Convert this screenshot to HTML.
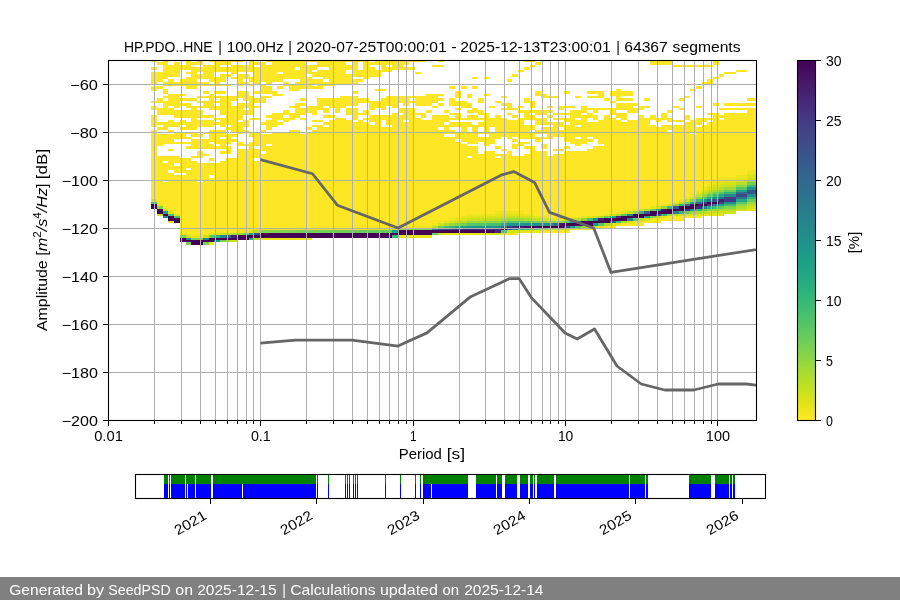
<!DOCTYPE html>
<html><head><meta charset="utf-8"><title>PPSD HP.PDO..HNE</title>
<style>html,body{margin:0;padding:0;background:#fff}body{width:900px;height:600px;overflow:hidden;font-family:"Liberation Sans",sans-serif}svg{display:block;will-change:transform}</style></head>
<body>
<svg width="900" height="600" viewBox="0 0 900 600" font-family="'Liberation Sans', sans-serif" font-size="14.1px" fill="#000">
<rect width="900" height="600" fill="#fff"/>
<defs><clipPath id="axclip"><rect x="108" y="60" width="648" height="360"/></clipPath>
<linearGradient id="vir" x1="0" y1="0" x2="0" y2="1"><stop offset="0" stop-color="#440154"/><stop offset="0.05" stop-color="#471365"/><stop offset="0.1" stop-color="#482475"/><stop offset="0.15" stop-color="#463480"/><stop offset="0.2" stop-color="#414487"/><stop offset="0.25" stop-color="#3b518b"/><stop offset="0.3" stop-color="#355f8d"/><stop offset="0.35" stop-color="#2f6c8e"/><stop offset="0.4" stop-color="#2a788e"/><stop offset="0.45" stop-color="#25848e"/><stop offset="0.5" stop-color="#21908d"/><stop offset="0.55" stop-color="#1e9c89"/><stop offset="0.6" stop-color="#22a884"/><stop offset="0.65" stop-color="#2fb47c"/><stop offset="0.7" stop-color="#44bf70"/><stop offset="0.75" stop-color="#5cc863"/><stop offset="0.8" stop-color="#7ad151"/><stop offset="0.85" stop-color="#9bd93c"/><stop offset="0.9" stop-color="#bddf26"/><stop offset="0.95" stop-color="#dfe318"/><stop offset="1" stop-color="#fde725"/></linearGradient></defs>
<g clip-path="url(#axclip)" shape-rendering="crispEdges">
<path fill="#fde725" d="M151 60H157V62.4H151ZM163 60H168V62.4H163ZM186 60H191V62.4H186ZM197 60H203V62.4H197ZM209 60H243V62.4H209ZM249 60H254V62.4H249ZM266 60H369V62.4H266ZM375 60H426V62.4H375ZM438 60H444V62.4H438ZM524 60H535V62.4H524ZM650 60H673V62.4H650ZM713 60H719V62.4H713ZM151 67.2H157V69.6H151ZM163 67.2H295V69.6H163ZM300 67.2H317V69.6H300ZM329 67.2H358V69.6H329ZM363 67.2H375V69.6H363ZM381 67.2H415V69.6H381ZM524 67.2H530V69.6H524ZM151 72H180V74.4H151ZM186 72H197V74.4H186ZM203 72H214V74.4H203ZM231 72H237V74.4H231ZM254 72H277V74.4H254ZM283 72H346V74.4H283ZM352 72H381V74.4H352ZM415 72H421V74.4H415ZM724 72H736V74.4H724ZM151 74.4H180V76.8H151ZM191 74.4H214V76.8H191ZM220 74.4H231V76.8H220ZM237 74.4H249V76.8H237ZM254 74.4H306V76.8H254ZM312 74.4H381V76.8H312ZM512 74.4H518V76.8H512ZM719 74.4H724V76.8H719ZM151 76.8H168V79.2H151ZM186 76.8H226V79.2H186ZM231 76.8H312V79.2H231ZM323 76.8H352V79.2H323ZM363 76.8H369V79.2H363ZM472 76.8H478V79.2H472ZM484 76.8H489V79.2H484ZM713 76.8H719V79.2H713ZM151 79.2H163V81.6H151ZM168 79.2H174V81.6H168ZM180 79.2H197V81.6H180ZM209 79.2H226V81.6H209ZM237 79.2H243V81.6H237ZM249 79.2H283V81.6H249ZM300 79.2H323V81.6H300ZM329 79.2H363V81.6H329ZM507 79.2H512V81.6H507ZM707 79.2H713V81.6H707ZM151 81.6H157V84H151ZM163 81.6H209V84H163ZM214 81.6H220V84H214ZM237 81.6H249V84H237ZM254 81.6H260V84H254ZM266 81.6H272V84H266ZM283 81.6H289V84H283ZM295 81.6H358V84H295ZM702 81.6H713V84H702ZM151 86.4H163V88.8H151ZM186 86.4H197V88.8H186ZM260 86.4H272V88.8H260ZM277 86.4H283V88.8H277ZM289 86.4H323V88.8H289ZM449 86.4H455V88.8H449ZM461 86.4H467V88.8H461ZM472 86.4H478V88.8H472ZM696 86.4H702V88.8H696ZM151 88.8H157V91.2H151ZM163 88.8H168V91.2H163ZM260 88.8H272V91.2H260ZM289 88.8H300V91.2H289ZM375 88.8H386V91.2H375ZM616 88.8H621V91.2H616ZM690 88.8H696V91.2H690ZM151 100.8H180V103.2H151ZM197 100.8H231V103.2H197ZM249 100.8H266V103.2H249ZM317 100.8H438V103.2H317ZM449 100.8H467V103.2H449ZM478 100.8H484V103.2H478ZM495 100.8H501V103.2H495ZM524 100.8H535V103.2H524ZM610 100.8H616V103.2H610ZM151 105.6H157V108H151ZM163 105.6H168V108H163ZM174 105.6H180V108H174ZM186 105.6H260V108H186ZM289 105.6H300V108H289ZM306 105.6H323V108H306ZM329 105.6H346V108H329ZM369 105.6H386V108H369ZM392 105.6H398V108H392ZM432 105.6H438V108H432ZM461 105.6H472V108H461ZM489 105.6H495V108H489ZM507 105.6H512V108H507ZM518 105.6H524V108H518ZM530 105.6H535V108H530ZM547 105.6H553V108H547ZM558 105.6H575V108H558ZM581 105.6H587V108H581ZM616 105.6H633V108H616ZM639 105.6H650V108H639ZM673 105.6H679V108H673ZM696 105.6H702V108H696ZM151 108H174V110.4H151ZM191 108H197V110.4H191ZM209 108H243V110.4H209ZM249 108H254V110.4H249ZM295 108H329V110.4H295ZM335 108H340V110.4H335ZM346 108H358V110.4H346ZM369 108H375V110.4H369ZM381 108H386V110.4H381ZM398 108H415V110.4H398ZM455 108H461V110.4H455ZM472 108H478V110.4H472ZM501 108H518V110.4H501ZM558 108H564V110.4H558ZM581 108H644V110.4H581ZM679 108H684V110.4H679ZM719 108H756V110.4H719ZM151 115.2H157V117.6H151ZM174 115.2H214V117.6H174ZM226 115.2H243V117.6H226ZM266 115.2H283V117.6H266ZM289 115.2H300V117.6H289ZM323 115.2H335V117.6H323ZM352 115.2H358V117.6H352ZM369 115.2H415V117.6H369ZM421 115.2H426V117.6H421ZM432 115.2H449V117.6H432ZM455 115.2H461V117.6H455ZM467 115.2H478V117.6H467ZM484 115.2H489V117.6H484ZM495 115.2H501V117.6H495ZM512 115.2H518V117.6H512ZM524 115.2H535V117.6H524ZM547 115.2H553V117.6H547ZM570 115.2H598V117.6H570ZM604 115.2H610V117.6H604ZM616 115.2H627V117.6H616ZM639 115.2H644V117.6H639ZM650 115.2H656V117.6H650ZM661 115.2H667V117.6H661ZM684 115.2H690V117.6H684ZM713 115.2H756V117.6H713ZM151 117.6H157V120H151ZM191 117.6H197V120H191ZM214 117.6H243V120H214ZM249 117.6H260V120H249ZM272 117.6H295V120H272ZM300 117.6H306V120H300ZM335 117.6H346V120H335ZM352 117.6H358V120H352ZM363 117.6H421V120H363ZM432 117.6H507V120H432ZM518 117.6H547V120H518ZM553 117.6H575V120H553ZM581 117.6H587V120H581ZM593 117.6H598V120H593ZM604 117.6H616V120H604ZM621 117.6H627V120H621ZM639 117.6H673V120H639ZM684 117.6H690V120H684ZM696 117.6H719V120H696ZM724 117.6H756V120H724ZM151 120H157V122.4H151ZM168 120H174V122.4H168ZM180 120H186V122.4H180ZM191 120H214V122.4H191ZM220 120H237V122.4H220ZM243 120H249V122.4H243ZM266 120H277V122.4H266ZM283 120H289V122.4H283ZM312 120H323V122.4H312ZM329 120H352V122.4H329ZM358 120H363V122.4H358ZM369 120H381V122.4H369ZM386 120H403V122.4H386ZM409 120H449V122.4H409ZM484 120H524V122.4H484ZM535 120H547V122.4H535ZM564 120H587V122.4H564ZM598 120H621V122.4H598ZM627 120H650V122.4H627ZM656 120H661V122.4H656ZM667 120H684V122.4H667ZM690 120H707V122.4H690ZM713 120H756V122.4H713ZM151 122.4H249V124.8H151ZM260 122.4H283V124.8H260ZM323 122.4H369V124.8H323ZM375 122.4H381V124.8H375ZM386 122.4H444V124.8H386ZM449 122.4H472V124.8H449ZM478 122.4H524V124.8H478ZM535 122.4H564V124.8H535ZM570 122.4H650V124.8H570ZM684 122.4H702V124.8H684ZM707 122.4H756V124.8H707ZM151 124.8H157V127.2H151ZM163 124.8H180V127.2H163ZM186 124.8H214V127.2H186ZM220 124.8H226V127.2H220ZM231 124.8H249V127.2H231ZM266 124.8H277V127.2H266ZM312 124.8H323V127.2H312ZM329 124.8H381V127.2H329ZM392 124.8H535V127.2H392ZM553 124.8H575V127.2H553ZM581 124.8H656V127.2H581ZM661 124.8H696V127.2H661ZM702 124.8H756V127.2H702ZM151 129.6H157V132H151ZM168 129.6H174V132H168ZM209 129.6H226V132H209ZM231 129.6H249V132H231ZM260 129.6H266V132H260ZM289 129.6H300V132H289ZM312 129.6H455V132H312ZM461 129.6H467V132H461ZM472 129.6H478V132H472ZM484 129.6H489V132H484ZM495 129.6H530V132H495ZM535 129.6H667V132H535ZM673 129.6H756V132H673ZM151 132H157V134.4H151ZM174 132H197V134.4H174ZM203 132H226V134.4H203ZM237 132H243V134.4H237ZM249 132H260V134.4H249ZM272 132H300V134.4H272ZM306 132H690V134.4H306ZM696 132H756V134.4H696ZM151 134.4H186V136.8H151ZM191 134.4H203V136.8H191ZM209 134.4H237V136.8H209ZM249 134.4H444V136.8H249ZM455 134.4H478V136.8H455ZM489 134.4H535V136.8H489ZM547 134.4H756V136.8H547ZM151 136.8H191V139.2H151ZM209 136.8H220V139.2H209ZM226 136.8H231V139.2H226ZM254 136.8H501V139.2H254ZM507 136.8H512V139.2H507ZM518 136.8H553V139.2H518ZM564 136.8H575V139.2H564ZM581 136.8H587V139.2H581ZM593 136.8H756V139.2H593ZM151 139.2H174V141.6H151ZM191 139.2H237V141.6H191ZM254 139.2H455V141.6H254ZM461 139.2H495V141.6H461ZM512 139.2H518V141.6H512ZM535 139.2H541V141.6H535ZM564 139.2H593V141.6H564ZM598 139.2H756V141.6H598ZM151 141.6H209V144H151ZM214 141.6H231V144H214ZM237 141.6H243V144H237ZM249 141.6H461V144H249ZM467 141.6H478V144H467ZM484 141.6H495V144H484ZM518 141.6H530V144H518ZM570 141.6H587V144H570ZM598 141.6H756V144H598ZM151 144H163V146.4H151ZM191 144H214V146.4H191ZM220 144H226V146.4H220ZM237 144H266V146.4H237ZM272 144H467V146.4H272ZM484 144H489V146.4H484ZM512 144H524V146.4H512ZM541 144H547V146.4H541ZM575 144H581V146.4H575ZM604 144H756V146.4H604ZM151 146.4H157V148.8H151ZM186 146.4H231V148.8H186ZM249 146.4H254V148.8H249ZM260 146.4H478V148.8H260ZM495 146.4H501V148.8H495ZM512 146.4H518V148.8H512ZM524 146.4H535V148.8H524ZM541 146.4H547V148.8H541ZM564 146.4H570V148.8H564ZM593 146.4H756V148.8H593ZM151 148.8H157V151.2H151ZM168 148.8H174V151.2H168ZM226 148.8H231V151.2H226ZM237 148.8H478V151.2H237ZM501 148.8H507V151.2H501ZM530 148.8H535V151.2H530ZM553 148.8H564V151.2H553ZM587 148.8H756V151.2H587ZM151 151.2H157V153.6H151ZM197 151.2H203V153.6H197ZM220 151.2H231V153.6H220ZM237 151.2H260V153.6H237ZM266 151.2H478V153.6H266ZM484 151.2H495V153.6H484ZM507 151.2H512V153.6H507ZM530 151.2H547V153.6H530ZM564 151.2H756V153.6H564ZM151 153.6H157V156H151ZM197 153.6H209V156H197ZM237 153.6H512V156H237ZM524 153.6H547V156H524ZM553 153.6H756V156H553ZM151 156H180V158.4H151ZM191 156H203V158.4H191ZM237 156H467V158.4H237ZM472 156H495V158.4H472ZM501 156H756V158.4H501ZM151 158.4H191V160.8H151ZM209 158.4H214V160.8H209ZM226 158.4H254V160.8H226ZM260 158.4H756V160.8H260ZM151 160.8H163V163.2H151ZM168 160.8H197V163.2H168ZM220 160.8H756V163.2H220ZM151 163.2H174V165.6H151ZM180 163.2H756V165.6H180ZM151 165.6H756V168H151ZM151 168H186V170.4H151ZM191 168H756V170.4H191ZM151 170.4H168V172.8H151ZM174 170.4H747V172.8H174ZM151 172.8H174V175.2H151ZM186 172.8H747V175.2H186ZM151 175.2H209V177.6H151ZM214 175.2H736V177.6H214ZM151 177.6H719V180H151ZM151 180H163V182.4H151ZM168 180H197V182.4H168ZM203 180H713V182.4H203ZM151 182.4H707V184.8H151ZM151 184.8H707V187.2H151ZM151 187.2H702V189.6H151ZM151 189.6H696V192H151ZM151 192H696V194.4H151ZM151 194.4H690V196.8H151ZM151 196.8H684V199.2H151ZM157 62.4H168V64.8H157ZM174 62.4H180V64.8H174ZM186 62.4H203V64.8H186ZM214 62.4H231V64.8H214ZM249 62.4H266V64.8H249ZM272 62.4H306V64.8H272ZM317 62.4H346V64.8H317ZM352 62.4H358V64.8H352ZM363 62.4H409V64.8H363ZM535 62.4H541V64.8H535ZM650 62.4H673V64.8H650ZM713 62.4H719V64.8H713ZM157 98.4H163V100.8H157ZM168 98.4H197V100.8H168ZM209 98.4H214V100.8H209ZM220 98.4H237V100.8H220ZM243 98.4H266V100.8H243ZM300 98.4H306V100.8H300ZM317 98.4H369V100.8H317ZM381 98.4H409V100.8H381ZM415 98.4H444V100.8H415ZM449 98.4H455V100.8H449ZM478 98.4H484V100.8H478ZM524 98.4H530V100.8H524ZM604 98.4H610V100.8H604ZM616 98.4H633V100.8H616ZM644 98.4H650V100.8H644ZM679 98.4H684V100.8H679ZM747 98.4H756V100.8H747ZM157 110.4H203V112.8H157ZM220 110.4H254V112.8H220ZM283 110.4H289V112.8H283ZM295 110.4H317V112.8H295ZM323 110.4H329V112.8H323ZM335 110.4H340V112.8H335ZM346 110.4H358V112.8H346ZM363 110.4H369V112.8H363ZM398 110.4H415V112.8H398ZM426 110.4H432V112.8H426ZM444 110.4H449V112.8H444ZM467 110.4H484V112.8H467ZM518 110.4H553V112.8H518ZM570 110.4H587V112.8H570ZM593 110.4H598V112.8H593ZM610 110.4H616V112.8H610ZM627 110.4H639V112.8H627ZM667 110.4H673V112.8H667ZM747 110.4H756V112.8H747ZM157 112.8H203V115.2H157ZM220 112.8H254V115.2H220ZM272 112.8H306V115.2H272ZM312 112.8H317V115.2H312ZM346 112.8H369V115.2H346ZM392 112.8H398V115.2H392ZM403 112.8H426V115.2H403ZM449 112.8H461V115.2H449ZM478 112.8H489V115.2H478ZM507 112.8H512V115.2H507ZM524 112.8H530V115.2H524ZM535 112.8H547V115.2H535ZM553 112.8H581V115.2H553ZM587 112.8H593V115.2H587ZM610 112.8H627V115.2H610ZM661 112.8H667V115.2H661ZM707 112.8H719V115.2H707ZM724 112.8H756V115.2H724ZM157 127.2H168V129.6H157ZM180 127.2H197V129.6H180ZM226 127.2H243V129.6H226ZM266 127.2H272V129.6H266ZM306 127.2H312V129.6H306ZM317 127.2H438V129.6H317ZM444 127.2H449V129.6H444ZM461 127.2H467V129.6H461ZM472 127.2H478V129.6H472ZM484 127.2H489V129.6H484ZM495 127.2H535V129.6H495ZM541 127.2H558V129.6H541ZM564 127.2H756V129.6H564ZM157 199.2H679V201.6H157ZM157 201.6H673V204H157ZM163 64.8H191V67.2H163ZM203 64.8H220V67.2H203ZM231 64.8H254V67.2H231ZM260 64.8H358V67.2H260ZM363 64.8H369V67.2H363ZM381 64.8H386V67.2H381ZM392 64.8H403V67.2H392ZM432 64.8H444V67.2H432ZM530 64.8H535V67.2H530ZM673 64.8H713V67.2H673ZM163 69.6H180V72H163ZM191 69.6H312V72H191ZM317 69.6H346V72H317ZM352 69.6H392V72H352ZM518 69.6H524V72H518ZM736 69.6H747V72H736ZM163 84H231V86.4H163ZM237 84H243V86.4H237ZM249 84H254V86.4H249ZM260 84H266V86.4H260ZM283 84H312V86.4H283ZM317 84H335V86.4H317ZM163 91.2H168V93.6H163ZM203 91.2H209V93.6H203ZM214 91.2H226V93.6H214ZM237 91.2H249V93.6H237ZM254 91.2H277V93.6H254ZM352 91.2H358V93.6H352ZM455 91.2H461V93.6H455ZM535 91.2H541V93.6H535ZM564 91.2H570V93.6H564ZM587 91.2H604V93.6H587ZM610 91.2H633V93.6H610ZM163 96H180V98.4H163ZM197 96H254V98.4H197ZM260 96H272V98.4H260ZM340 96H358V98.4H340ZM386 96H438V98.4H386ZM455 96H461V98.4H455ZM467 96H472V98.4H467ZM501 96H507V98.4H501ZM541 96H558V98.4H541ZM575 96H581V98.4H575ZM587 96H604V98.4H587ZM616 96H621V98.4H616ZM684 96H690V98.4H684ZM163 103.2H191V105.6H163ZM203 103.2H214V105.6H203ZM220 103.2H231V105.6H220ZM237 103.2H254V105.6H237ZM295 103.2H306V105.6H295ZM317 103.2H358V105.6H317ZM369 103.2H398V105.6H369ZM403 103.2H409V105.6H403ZM415 103.2H432V105.6H415ZM438 103.2H444V105.6H438ZM449 103.2H472V105.6H449ZM501 103.2H512V105.6H501ZM530 103.2H535V105.6H530ZM616 103.2H639V105.6H616ZM713 103.2H719V105.6H713ZM724 103.2H756V105.6H724ZM163 204H661V206.4H163ZM163 206.4H650V208.8H163ZM168 93.6H186V96H168ZM209 93.6H214V96H209ZM237 93.6H249V96H237ZM272 93.6H283V96H272ZM426 93.6H444V96H426ZM455 93.6H461V96H455ZM467 93.6H472V96H467ZM484 93.6H489V96H484ZM535 93.6H547V96H535ZM598 93.6H604V96H598ZM610 93.6H633V96H610ZM168 208.8H633V211.2H168ZM174 211.2H495V213.6H174ZM524 211.2H621V213.6H524ZM180 213.6H467V216H180ZM535 213.6H604V216H535ZM180 216H461V218.4H180ZM547 216H581V218.4H547ZM667 216H702V218.4H667ZM180 218.4H449V220.8H180ZM650 218.4H684V220.8H650ZM180 220.8H438V223.2H180ZM639 220.8H661V223.2H639ZM180 223.2H432V225.6H180ZM621 223.2H644V225.6H621ZM180 225.6H398V228H180ZM604 225.6H616V228H604ZM180 228H260V230.4H180ZM581 228H593V230.4H581ZM180 230.4H237V232.8H180ZM541 230.4H570V232.8H541ZM186 232.8H209V235.2H186ZM507 232.8H518V235.2H507Z"/>
<path fill="#1e9d89" d="M570 225.6H575V228H570Z"/>
<path fill="#1f948c" d="M472 225.6H478V228H472ZM512 223.2H518V225.6H512ZM535 223.2H541V225.6H535Z"/>
<path fill="#1f958b" d="M702 199.2H707V201.6H702Z"/>
<path fill="#1f978b" d="M467 225.6H472V228H467ZM507 223.2H512V225.6H507Z"/>
<path fill="#1f9a8a" d="M656 208.8H661V211.2H656Z"/>
<path fill="#1fa088" d="M392 230.4H398V232.8H392ZM461 225.6H467V228H461ZM644 216H650V218.4H644ZM719 204H724V206.4H719Z"/>
<path fill="#1fa188" d="M163 211.2H168V213.6H163ZM570 220.8H575V223.2H570Z"/>
<path fill="#20928c" d="M478 225.6H484V228H478ZM524 223.2H530V225.6H524ZM713 196.8H719V199.2H713Z"/>
<path fill="#20938c" d="M214 240H220V242.4H214ZM530 223.2H535V225.6H530ZM541 223.2H547V225.6H541ZM747 187.2H756V189.6H747Z"/>
<path fill="#20a386" d="M610 216H616V218.4H610Z"/>
<path fill="#20a486" d="M736 189.6H747V192H736Z"/>
<path fill="#218e8d" d="M593 223.2H598V225.6H593Z"/>
<path fill="#218f8d" d="M495 225.6H501V228H495ZM724 201.6H736V204H724Z"/>
<path fill="#21908d" d="M489 225.6H495V228H489ZM547 223.2H553V225.6H547ZM690 208.8H696V211.2H690Z"/>
<path fill="#21918c" d="M484 225.6H489V228H484ZM518 223.2H524V225.6H518ZM747 194.4H756V196.8H747Z"/>
<path fill="#21a585" d="M249 232.8H254V235.2H249Z"/>
<path fill="#228b8d" d="M724 194.4H736V196.8H724Z"/>
<path fill="#228c8d" d="M512 228H518V230.4H512Z"/>
<path fill="#228d8d" d="M593 218.4H598V220.8H593Z"/>
<path fill="#22a785" d="M690 201.6H696V204H690Z"/>
<path fill="#22a884" d="M736 199.2H747V201.6H736Z"/>
<path fill="#23898e" d="M220 235.2H226V237.6H220Z"/>
<path fill="#24868e" d="M432 228H438V230.4H432Z"/>
<path fill="#24aa83" d="M455 225.6H461V228H455ZM719 194.4H724V196.8H719Z"/>
<path fill="#25838e" d="M163 216H168V218.4H163ZM186 237.6H191V240H186ZM203 237.6H209V240H203Z"/>
<path fill="#25858e" d="M627 213.6H633V216H627Z"/>
<path fill="#25ac82" d="M707 196.8H713V199.2H707ZM707 206.4H713V208.8H707Z"/>
<path fill="#26828e" d="M702 206.4H707V208.8H702Z"/>
<path fill="#26ad81" d="M518 228H524V230.4H518Z"/>
<path fill="#27808e" d="M627 218.4H633V220.8H627ZM713 204H719V206.4H713Z"/>
<path fill="#287d8e" d="M673 211.2H679V213.6H673Z"/>
<path fill="#29798e" d="M719 196.8H724V199.2H719Z"/>
<path fill="#2a768e" d="M736 196.8H747V199.2H736Z"/>
<path fill="#2ab07f" d="M249 237.6H254V240H249ZM501 223.2H507V225.6H501Z"/>
<path fill="#2c728e" d="M684 204H690V206.4H684ZM707 199.2H713V201.6H707Z"/>
<path fill="#2d708e" d="M696 201.6H702V204H696Z"/>
<path fill="#2d718e" d="M501 225.6H507V228H501Z"/>
<path fill="#2db27d" d="M214 235.2H220V237.6H214ZM679 204H684V206.4H679Z"/>
<path fill="#2f6b8e" d="M553 223.2H558V225.6H553Z"/>
<path fill="#2f6c8e" d="M736 192H747V194.4H736Z"/>
<path fill="#31b57b" d="M449 225.6H455V228H449ZM639 211.2H644V213.6H639Z"/>
<path fill="#34608d" d="M575 220.8H581V223.2H575Z"/>
<path fill="#34618d" d="M226 235.2H231V237.6H226Z"/>
<path fill="#34b679" d="M679 211.2H684V213.6H679ZM724 192H736V194.4H724Z"/>
<path fill="#35b779" d="M747 196.8H756V199.2H747Z"/>
<path fill="#365d8d" d="M644 211.2H650V213.6H644Z"/>
<path fill="#375a8c" d="M673 206.4H679V208.8H673Z"/>
<path fill="#37b878" d="M524 228H530V230.4H524ZM696 208.8H702V211.2H696Z"/>
<path fill="#38b977" d="M392 235.2H398V237.6H392Z"/>
<path fill="#39568c" d="M438 228H444V230.4H438ZM610 220.8H616V223.2H610Z"/>
<path fill="#3a538b" d="M713 199.2H719V201.6H713Z"/>
<path fill="#3a548c" d="M747 189.6H756V192H747ZM747 192H756V194.4H747Z"/>
<path fill="#3aba76" d="M661 213.6H667V216H661ZM696 199.2H702V201.6H696ZM713 194.4H719V196.8H713Z"/>
<path fill="#3b528b" d="M507 228H512V230.4H507Z"/>
<path fill="#3bbb75" d="M667 206.4H673V208.8H667ZM747 184.8H756V187.2H747Z"/>
<path fill="#3c4f8a" d="M254 232.8H260V235.2H254ZM444 228H449V230.4H444Z"/>
<path fill="#3e4c8a" d="M656 213.6H661V216H656Z"/>
<path fill="#404588" d="M564 225.6H570V228H564ZM719 201.6H724V204H719ZM736 194.4H747V196.8H736Z"/>
<path fill="#40bd72" d="M724 204H736V206.4H724Z"/>
<path fill="#424186" d="M449 228H455V230.4H449ZM724 196.8H736V199.2H724Z"/>
<path fill="#440154" d="M151 204H157V206.4H151ZM696 204H707V206.4H696ZM151 206.4H157V208.8H151ZM679 206.4H696V208.8H679ZM157 211.2H163V213.6H157ZM650 211.2H673V213.6H650ZM163 213.6H168V216H163ZM633 213.6H656V216H633ZM168 216H174V218.4H168ZM621 216H644V218.4H621ZM168 218.4H180V220.8H168ZM604 218.4H627V220.8H604ZM174 220.8H180V223.2H174ZM581 220.8H610V223.2H581ZM180 237.6H186V240H180ZM209 237.6H249V240H209ZM180 240H214V242.4H180ZM191 242.4H203V244.8H191ZM237 235.2H392V237.6H237ZM260 232.8H432V235.2H260ZM398 230.4H489V232.8H398ZM501 228H507V230.4H501ZM530 225.6H564V228H530ZM564 223.2H587V225.6H564ZM667 208.8H684V211.2H667ZM707 201.6H719V204H707Z"/>
<path fill="#443983" d="M707 204H713V206.4H707ZM724 199.2H736V201.6H724Z"/>
<path fill="#443a83" d="M507 225.6H512V228H507Z"/>
<path fill="#44bf70" d="M616 220.8H621V223.2H616Z"/>
<path fill="#450457" d="M157 208.8H163V211.2H157Z"/>
<path fill="#453581" d="M684 208.8H690V211.2H684Z"/>
<path fill="#453781" d="M455 228H461V230.4H455Z"/>
<path fill="#453882" d="M702 201.6H707V204H702Z"/>
<path fill="#46075a" d="M489 230.4H495V232.8H489Z"/>
<path fill="#460b5e" d="M524 225.6H530V228H524ZM587 223.2H593V225.6H587Z"/>
<path fill="#46307e" d="M495 228H501V230.4H495Z"/>
<path fill="#46c06f" d="M495 223.2H501V225.6H495ZM587 218.4H593V220.8H587Z"/>
<path fill="#471164" d="M690 204H696V206.4H690Z"/>
<path fill="#471365" d="M661 208.8H667V211.2H661Z"/>
<path fill="#472a7a" d="M478 228H484V230.4H478ZM696 206.4H702V208.8H696Z"/>
<path fill="#472c7a" d="M616 216H621V218.4H616Z"/>
<path fill="#472d7b" d="M484 228H489V230.4H484Z"/>
<path fill="#472e7c" d="M461 228H467V230.4H461ZM489 228H495V230.4H489Z"/>
<path fill="#481769" d="M518 225.6H524V228H518Z"/>
<path fill="#48186a" d="M558 223.2H564V225.6H558Z"/>
<path fill="#481c6e" d="M598 218.4H604V220.8H598Z"/>
<path fill="#482071" d="M719 199.2H724V201.6H719Z"/>
<path fill="#482173" d="M231 235.2H237V237.6H231Z"/>
<path fill="#482677" d="M495 230.4H501V232.8H495Z"/>
<path fill="#482979" d="M467 228H478V230.4H467ZM512 225.6H518V228H512Z"/>
<path fill="#48c16e" d="M444 225.6H449V228H444ZM489 223.2H495V225.6H489Z"/>
<path fill="#4cc26c" d="M151 201.6H157V204H151ZM168 213.6H174V216H168ZM174 216H180V218.4H174ZM484 223.2H489V225.6H484ZM713 206.4H719V208.8H713Z"/>
<path fill="#52c569" d="M478 223.2H484V225.6H478ZM501 230.4H507V232.8H501ZM530 228H535V230.4H530ZM564 220.8H570V223.2H564ZM702 196.8H707V199.2H702Z"/>
<path fill="#56c667" d="M472 223.2H478V225.6H472ZM598 223.2H604V225.6H598ZM507 220.8H524V223.2H507ZM621 213.6H627V216H621ZM736 187.2H747V189.6H736ZM736 201.6H747V204H736Z"/>
<path fill="#5ac864" d="M719 192H724V194.4H719Z"/>
<path fill="#5cc863" d="M467 223.2H472V225.6H467ZM575 225.6H581V228H575Z"/>
<path fill="#5ec962" d="M524 220.8H530V223.2H524Z"/>
<path fill="#63cb5f" d="M386 230.4H392V232.8H386ZM633 218.4H639V220.8H633ZM707 194.4H713V196.8H707ZM719 206.4H724V208.8H719Z"/>
<path fill="#65cb5e" d="M209 235.2H214V237.6H209ZM381 230.4H386V232.8H381ZM702 208.8H707V211.2H702Z"/>
<path fill="#67cc5c" d="M369 230.4H381V232.8H369Z"/>
<path fill="#69cd5b" d="M363 230.4H369V232.8H363ZM530 220.8H535V223.2H530Z"/>
<path fill="#6ccd5a" d="M352 230.4H363V232.8H352ZM604 216H610V218.4H604ZM650 208.8H656V211.2H650ZM684 211.2H690V213.6H684ZM747 199.2H756V201.6H747Z"/>
<path fill="#6ece58" d="M220 240H226V242.4H220ZM243 232.8H249V235.2H243ZM340 230.4H352V232.8H340ZM438 225.6H444V228H438ZM535 228H541V230.4H535Z"/>
<path fill="#70cf57" d="M329 230.4H340V232.8H329ZM461 223.2H467V225.6H461ZM724 189.6H736V192H724Z"/>
<path fill="#73d056" d="M323 230.4H329V232.8H323ZM432 232.8H438V235.2H432ZM501 220.8H507V223.2H501ZM684 201.6H690V204H684ZM713 192H719V194.4H713Z"/>
<path fill="#75d054" d="M312 230.4H323V232.8H312Z"/>
<path fill="#77d153" d="M300 230.4H312V232.8H300ZM535 220.8H541V223.2H535ZM747 182.4H756V184.8H747Z"/>
<path fill="#7ad151" d="M180 235.2H186V237.6H180ZM186 242.4H191V244.8H186ZM203 242.4H209V244.8H203ZM191 237.6H203V240H191ZM295 230.4H300V232.8H295ZM426 228H432V230.4H426Z"/>
<path fill="#7cd250" d="M289 230.4H295V232.8H289Z"/>
<path fill="#7fd34e" d="M421 228H426V230.4H421Z"/>
<path fill="#81d34d" d="M283 230.4H289V232.8H283ZM415 228H421V230.4H415ZM541 220.8H547V223.2H541Z"/>
<path fill="#84d44b" d="M157 206.4H163V208.8H157ZM724 206.4H736V208.8H724ZM277 230.4H283V232.8H277ZM650 216H656V218.4H650Z"/>
<path fill="#86d549" d="M272 230.4H277V232.8H272ZM409 228H415V230.4H409ZM455 223.2H461V225.6H455ZM581 218.4H587V220.8H581Z"/>
<path fill="#89d548" d="M266 230.4H272V232.8H266ZM403 228H409V230.4H403ZM707 208.8H713V211.2H707Z"/>
<path fill="#8bd646" d="M260 230.4H266V232.8H260ZM398 228H403V230.4H398ZM495 220.8H501V223.2H495ZM558 220.8H564V223.2H558ZM736 204H747V206.4H736Z"/>
<path fill="#8ed645" d="M553 220.8H558V223.2H553ZM690 199.2H696V201.6H690ZM736 184.8H747V187.2H736Z"/>
<path fill="#90d743" d="M489 220.8H495V223.2H489ZM547 220.8H553V223.2H547ZM633 211.2H639V213.6H633ZM673 204H679V206.4H673ZM719 189.6H724V192H719Z"/>
<path fill="#93d741" d="M237 232.8H243V235.2H237ZM696 196.8H702V199.2H696Z"/>
<path fill="#95d840" d="M484 220.8H489V223.2H484ZM541 228H547V230.4H541ZM690 211.2H696V213.6H690Z"/>
<path fill="#98d83e" d="M702 194.4H707V196.8H702Z"/>
<path fill="#9bd93c" d="M478 220.8H484V223.2H478ZM507 218.4H512V220.8H507ZM661 206.4H667V208.8H661ZM747 201.6H756V204H747Z"/>
<path fill="#9dd93b" d="M449 223.2H455V225.6H449ZM707 192H713V194.4H707Z"/>
<path fill="#a0da39" d="M472 220.8H478V223.2H472ZM512 218.4H518V220.8H512ZM581 225.6H587V228H581ZM713 208.8H719V211.2H713ZM724 187.2H736V189.6H724Z"/>
<path fill="#a2da37" d="M518 218.4H524V220.8H518ZM713 189.6H719V192H713Z"/>
<path fill="#a5db36" d="M467 220.8H472V223.2H467ZM667 213.6H673V216H667ZM747 180H756V182.4H747Z"/>
<path fill="#a8db34" d="M604 223.2H610V225.6H604ZM719 208.8H724V211.2H719Z"/>
<path fill="#aadc32" d="M226 240H231V242.4H226ZM598 216H604V218.4H598ZM616 213.6H621V216H616Z"/>
<path fill="#addc30" d="M231 232.8H237V235.2H231ZM501 218.4H507V220.8H501ZM524 218.4H530V220.8H524ZM621 220.8H627V223.2H621ZM696 211.2H702V213.6H696Z"/>
<path fill="#b0dd2f" d="M553 228H558V230.4H553Z"/>
<path fill="#b2dd2d" d="M558 228H564V230.4H558ZM575 218.4H581V220.8H575ZM724 208.8H736V211.2H724ZM736 206.4H747V208.8H736Z"/>
<path fill="#b5de2b" d="M444 223.2H449V225.6H444ZM719 187.2H724V189.6H719Z"/>
<path fill="#b8de29" d="M254 237.6H260V240H254ZM432 225.6H438V228H432ZM461 220.8H467V223.2H461ZM530 218.4H535V220.8H530ZM547 228H553V230.4H547ZM644 208.8H650V211.2H644ZM736 182.4H747V184.8H736Z"/>
<path fill="#bade28" d="M254 230.4H260V232.8H254ZM495 218.4H501V220.8H495ZM679 201.6H684V204H679Z"/>
<path fill="#bddf26" d="M639 218.4H644V220.8H639ZM702 211.2H707V213.6H702ZM747 204H756V206.4H747Z"/>
<path fill="#c0df25" d="M489 218.4H495V220.8H489ZM673 213.6H679V216H673Z"/>
<path fill="#c2df23" d="M226 232.8H231V235.2H226ZM484 218.4H489V220.8H484ZM707 189.6H713V192H707ZM713 187.2H719V189.6H713ZM724 184.8H736V187.2H724Z"/>
<path fill="#c5e021" d="M535 218.4H541V220.8H535ZM702 192H707V194.4H702ZM747 177.6H756V180H747Z"/>
<path fill="#c8e020" d="M455 220.8H461V223.2H455ZM478 218.4H484V220.8H478ZM507 216H512V218.4H507ZM696 194.4H702V196.8H696ZM707 211.2H713V213.6H707Z"/>
<path fill="#cae11f" d="M163 208.8H168V211.2H163ZM472 218.4H478V220.8H472ZM512 216H518V218.4H512ZM656 216H661V218.4H656ZM587 225.6H593V228H587ZM627 211.2H633V213.6H627Z"/>
<path fill="#cde11d" d="M157 213.6H163V216H157ZM186 235.2H191V237.6H186ZM203 235.2H209V237.6H203ZM231 240H237V242.4H231ZM507 230.4H512V232.8H507ZM570 218.4H575V220.8H570ZM736 208.8H747V211.2H736Z"/>
<path fill="#d0e11c" d="M220 232.8H226V235.2H220ZM438 232.8H444V235.2H438ZM467 218.4H472V220.8H467ZM541 218.4H547V220.8H541ZM501 216H507V218.4H501ZM518 216H524V218.4H518ZM593 216H598V218.4H593ZM656 206.4H661V208.8H656ZM679 213.6H684V216H679ZM684 199.2H690V201.6H684ZM690 196.8H696V199.2H690ZM713 211.2H724V213.6H713ZM719 184.8H724V187.2H719Z"/>
<path fill="#d2e21b" d="M438 223.2H444V225.6H438ZM495 232.8H501V235.2H495ZM724 211.2H736V213.6H724ZM736 180H747V182.4H736ZM747 206.4H756V208.8H747Z"/>
<path fill="#d5e21a" d="M449 220.8H455V223.2H449ZM524 216H530V218.4H524ZM564 228H570V230.4H564ZM610 223.2H616V225.6H610Z"/>
<path fill="#d8e219" d="M392 228H398V230.4H392ZM489 232.8H495V235.2H489ZM495 216H501V218.4H495ZM512 230.4H518V232.8H512ZM610 213.6H616V216H610ZM684 213.6H690V216H684ZM713 184.8H719V187.2H713ZM724 182.4H736V184.8H724Z"/>
<path fill="#dae319" d="M249 230.4H254V232.8H249ZM461 218.4H467V220.8H461ZM547 218.4H553V220.8H547ZM489 216H495V218.4H489ZM707 187.2H713V189.6H707ZM747 175.2H756V177.6H747Z"/>
<path fill="#dde318" d="M151 199.2H157V201.6H151ZM168 211.2H174V213.6H168ZM174 213.6H180V216H174ZM690 213.6H696V216H690ZM484 216H489V218.4H484ZM484 232.8H489V235.2H484ZM627 220.8H633V223.2H627ZM639 208.8H644V211.2H639ZM667 204H673V206.4H667Z"/>
<path fill="#dfe318" d="M214 232.8H220V235.2H214ZM444 232.8H449V235.2H444ZM478 216H484V218.4H478ZM530 216H535V218.4H530ZM507 213.6H512V216H507ZM518 230.4H524V232.8H518ZM564 218.4H570V220.8H564ZM702 189.6H707V192H702ZM719 182.4H724V184.8H719Z"/>
<path fill="#e2e418" d="M449 232.8H455V235.2H449ZM478 232.8H484V235.2H478ZM512 213.6H518V216H512ZM696 213.6H702V216H696ZM524 230.4H530V232.8H524ZM553 218.4H558V220.8H553ZM644 218.4H650V220.8H644ZM587 216H593V218.4H587ZM736 177.6H747V180H736ZM747 208.8H756V211.2H747Z"/>
<path fill="#e5e419" d="M444 220.8H449V223.2H444ZM455 218.4H461V220.8H455ZM455 232.8H461V235.2H455ZM472 216H478V218.4H472ZM501 213.6H507V216H501ZM702 213.6H707V216H702ZM719 213.6H724V216H719ZM593 225.6H598V228H593ZM696 192H702V194.4H696ZM713 182.4H719V184.8H713Z"/>
<path fill="#e7e419" d="M157 204H163V206.4H157ZM260 237.6H272V240H260ZM398 235.2H409V237.6H398ZM467 216H472V218.4H467ZM535 216H541V218.4H535ZM472 232.8H478V235.2H472ZM495 213.6H501V216H495ZM518 213.6H524V216H518ZM707 213.6H719V216H707ZM570 228H575V230.4H570ZM621 211.2H627V213.6H621ZM673 201.6H679V204H673ZM724 180H736V182.4H724ZM747 172.8H756V175.2H747Z"/>
<path fill="#eae51a" d="M209 232.8H214V235.2H209ZM461 232.8H467V235.2H461ZM272 237.6H283V240H272ZM369 228H392V230.4H369ZM409 235.2H421V237.6H409ZM489 213.6H495V216H489ZM524 213.6H530V216H524ZM530 230.4H535V232.8H530ZM558 218.4H564V220.8H558ZM650 206.4H656V208.8H650ZM661 216H667V218.4H661ZM707 184.8H713V187.2H707Z"/>
<path fill="#ece51b" d="M168 220.8H174V223.2H168ZM180 232.8H186V235.2H180ZM467 232.8H472V235.2H467ZM191 235.2H203V237.6H191ZM421 235.2H432V237.6H421ZM243 230.4H249V232.8H243ZM283 237.6H300V240H283ZM300 228H369V230.4H300ZM461 216H467V218.4H461ZM541 216H547V218.4H541ZM581 216H587V218.4H581ZM484 213.6H489V216H484ZM604 213.6H610V216H604ZM679 199.2H684V201.6H679ZM690 194.4H696V196.8H690ZM702 187.2H707V189.6H702ZM719 180H724V182.4H719ZM736 175.2H747V177.6H736Z"/>
<path fill="#efe51c" d="M266 228H300V230.4H266ZM300 237.6H312V240H300ZM403 225.6H432V228H403ZM449 218.4H455V220.8H449ZM478 213.6H484V216H478ZM530 213.6H535V216H530ZM501 211.2H518V213.6H501ZM501 232.8H507V235.2H501ZM535 230.4H541V232.8H535ZM616 223.2H621V225.6H616ZM633 208.8H639V211.2H633ZM661 204H667V206.4H661ZM684 196.8H690V199.2H684ZM713 180H719V182.4H713ZM724 177.6H736V180H724ZM747 170.4H756V172.8H747Z"/>
<path fill="#f1e51d" d="M209 242.4H214V244.8H209ZM237 230.4H243V232.8H237ZM260 228H266V230.4H260ZM575 228H581V230.4H575ZM398 225.6H403V228H398ZM598 225.6H604V228H598ZM432 223.2H438V225.6H432ZM438 220.8H444V223.2H438ZM633 220.8H639V223.2H633ZM467 213.6H478V216H467ZM495 211.2H501V213.6H495ZM518 211.2H524V213.6H518ZM696 189.6H702V192H696ZM707 182.4H713V184.8H707ZM719 177.6H724V180H719Z"/>
</g>
<path d="M108.5 60V420M154.5 60V420M181.5 60V420M200.5 60V420M215.5 60V420M227.5 60V420M237.5 60V420M246.5 60V420M253.5 60V420M260.5 60V420M306.5 60V420M333.5 60V420M352.5 60V420M367.5 60V420M379.5 60V420M389.5 60V420M398.5 60V420M406.5 60V420M413.5 60V420M459.5 60V420M485.5 60V420M504.5 60V420M519.5 60V420M531.5 60V420M542.5 60V420M550.5 60V420M558.5 60V420M565.5 60V420M611.5 60V420M638.5 60V420M657.5 60V420M672.5 60V420M684.5 60V420M694.5 60V420M703.5 60V420M711.5 60V420M717.5 60V420M108 420.5H756M108 372.5H756M108 324.5H756M108 276.5H756M108 228.5H756M108 180.5H756M108 132.5H756M108 84.5H756" stroke="#b0b0b0" stroke-width="1" fill="none" shape-rendering="crispEdges"/>
<polyline clip-path="url(#axclip)" points="260.37,159.6 312.54,173.76 337.34,205.2 397.97,228 501.08,175.2 513.72,171.6 534.53,182.4 549.51,212.4 593.68,228 610.97,272.4 801.27,242.4" fill="none" stroke="#666" stroke-width="2.78" stroke-linejoin="round" stroke-linecap="butt"/>
<polyline clip-path="url(#axclip)" points="260.37,343.2 295.48,340.08 352.1,340.08 397.97,346.08 426.97,332.88 470.67,296.64 509.26,278.64 519.24,278.64 531.3,297.6 565.1,333 577.17,339 594.53,329.04 616.98,366 641.24,384 664.63,390 693.87,390 718.13,384 746.05,384 796.08,390" fill="none" stroke="#666" stroke-width="2.78" stroke-linejoin="round" stroke-linecap="butt"/>
<rect x="108.5" y="60.5" width="648" height="360" fill="none" stroke="#000" stroke-width="1.1"/>
<path d="M108.5 420.5v5.4M154.5 420.5v3.2M181.5 420.5v3.2M200.5 420.5v3.2M215.5 420.5v3.2M227.5 420.5v3.2M237.5 420.5v3.2M246.5 420.5v3.2M253.5 420.5v3.2M260.5 420.5v5.4M306.5 420.5v3.2M333.5 420.5v3.2M352.5 420.5v3.2M367.5 420.5v3.2M379.5 420.5v3.2M389.5 420.5v3.2M398.5 420.5v3.2M406.5 420.5v3.2M413.5 420.5v5.4M459.5 420.5v3.2M485.5 420.5v3.2M504.5 420.5v3.2M519.5 420.5v3.2M531.5 420.5v3.2M542.5 420.5v3.2M550.5 420.5v3.2M558.5 420.5v3.2M565.5 420.5v5.4M611.5 420.5v3.2M638.5 420.5v3.2M657.5 420.5v3.2M672.5 420.5v3.2M684.5 420.5v3.2M694.5 420.5v3.2M703.5 420.5v3.2M711.5 420.5v3.2M717.5 420.5v5.4M108.5 420.5h-5.4M108.5 372.5h-5.4M108.5 324.5h-5.4M108.5 276.5h-5.4M108.5 228.5h-5.4M108.5 180.5h-5.4M108.5 132.5h-5.4M108.5 84.5h-5.4M815.5 420.5h5.4M815.5 360.5h5.4M815.5 300.5h5.4M815.5 240.5h5.4M815.5 180.5h5.4M815.5 120.5h5.4M815.5 60.5h5.4M210.5 498.5v5.4M316.5 498.5v5.4M423.5 498.5v5.4M529.5 498.5v5.4M635.5 498.5v5.4M742.5 498.5v5.4" stroke="#000" stroke-width="1.1" fill="none" shape-rendering="crispEdges"/>
<text x="108.5" y="441" text-anchor="middle" textLength="28.7" lengthAdjust="spacingAndGlyphs">0.01</text>
<text x="260.87" y="441" text-anchor="middle" textLength="19.9" lengthAdjust="spacingAndGlyphs">0.1</text>
<text x="413.24" y="441" text-anchor="middle" textLength="6.5" lengthAdjust="spacingAndGlyphs">1</text>
<text x="565.6" y="441" text-anchor="middle" textLength="15.4" lengthAdjust="spacingAndGlyphs">10</text>
<text x="717.97" y="441" text-anchor="middle" textLength="24.2" lengthAdjust="spacingAndGlyphs">100</text>
<text x="98" y="426.2" text-anchor="end" textLength="36.3" lengthAdjust="spacingAndGlyphs">−200</text>
<text x="98" y="378.2" text-anchor="end" textLength="36.3" lengthAdjust="spacingAndGlyphs">−180</text>
<text x="98" y="330.2" text-anchor="end" textLength="36.3" lengthAdjust="spacingAndGlyphs">−160</text>
<text x="98" y="282.2" text-anchor="end" textLength="36.3" lengthAdjust="spacingAndGlyphs">−140</text>
<text x="98" y="234.2" text-anchor="end" textLength="36.3" lengthAdjust="spacingAndGlyphs">−120</text>
<text x="98" y="186.2" text-anchor="end" textLength="36.3" lengthAdjust="spacingAndGlyphs">−100</text>
<text x="98" y="138.2" text-anchor="end" textLength="27.8" lengthAdjust="spacingAndGlyphs">−80</text>
<text x="98" y="90.2" text-anchor="end" textLength="27.8" lengthAdjust="spacingAndGlyphs">−60</text>
<text x="826" y="425.6" textLength="6.9" lengthAdjust="spacingAndGlyphs">0</text>
<text x="826" y="365.6" textLength="6.9" lengthAdjust="spacingAndGlyphs">5</text>
<text x="826" y="305.6" textLength="15.6" lengthAdjust="spacingAndGlyphs">10</text>
<text x="826" y="245.6" textLength="15.6" lengthAdjust="spacingAndGlyphs">15</text>
<text x="826" y="185.6" textLength="15.6" lengthAdjust="spacingAndGlyphs">20</text>
<text x="826" y="125.6" textLength="15.6" lengthAdjust="spacingAndGlyphs">25</text>
<text x="826" y="65.6" textLength="15.6" lengthAdjust="spacingAndGlyphs">30</text>
<text x="123.89" y="52" textLength="88.7" lengthAdjust="spacingAndGlyphs">HP.PDO..HNE</text>
<text x="220" y="52" text-anchor="middle">|</text>
<text x="226.85" y="52" textLength="56.9" lengthAdjust="spacingAndGlyphs">100.0Hz</text>
<text x="290" y="52" text-anchor="middle">|</text>
<text x="296.22" y="52" textLength="150.47" lengthAdjust="spacingAndGlyphs">2020-07-25T00:00:01</text>
<text x="451.27" y="52" textLength="5.44" lengthAdjust="spacingAndGlyphs">-</text>
<text x="460.22" y="52" textLength="150.47" lengthAdjust="spacingAndGlyphs">2025-12-13T23:00:01</text>
<text x="618" y="52" text-anchor="middle">|</text>
<text x="624.22" y="52" textLength="43.58" lengthAdjust="spacingAndGlyphs">64367</text>
<text x="672.61" y="52" textLength="67.95" lengthAdjust="spacingAndGlyphs">segments</text>
<text x="398.81" y="459.4" textLength="43.1" lengthAdjust="spacingAndGlyphs">Period</text>
<text x="446.78" y="459.4" textLength="18.36" lengthAdjust="spacingAndGlyphs">[s]</text>
<g transform="translate(46.9,400) rotate(-90)">
<text x="69" y="0" textLength="70.67" lengthAdjust="spacingAndGlyphs">Amplitude</text>
<text x="220.8" y="0" textLength="30.37" lengthAdjust="spacingAndGlyphs">[dB]</text>
<text x="144.2" y="0" textLength="72.4" lengthAdjust="spacingAndGlyphs">[<tspan font-style="italic">m</tspan><tspan font-size="10.2px" dy="-6.2">2</tspan><tspan dy="6.2" font-style="italic">/s</tspan><tspan font-size="10.2px" dy="-6.2">4</tspan><tspan dy="6.2" font-style="italic">/Hz</tspan>]</text>
</g>
<text transform="translate(858.6,242.5) rotate(-90)" text-anchor="middle" textLength="21.6" lengthAdjust="spacingAndGlyphs">[%]</text>
<rect x="797" y="60" width="18" height="360" fill="url(#vir)"/>
<rect x="797.5" y="60.5" width="18" height="360" fill="none" stroke="#000" stroke-width="1.1"/>
<g shape-rendering="crispEdges">
<rect x="164" y="475" width="152" height="9" fill="#008000"/>
<rect x="164" y="484" width="152" height="14" fill="#0000ff"/>
<rect x="423" y="475" width="45" height="9" fill="#008000"/>
<rect x="423" y="484" width="45" height="14" fill="#0000ff"/>
<rect x="476" y="475" width="171.8" height="9" fill="#008000"/>
<rect x="476" y="484" width="171.8" height="14" fill="#0000ff"/>
<rect x="689" y="475" width="22" height="9" fill="#008000"/>
<rect x="689" y="484" width="22" height="14" fill="#0000ff"/>
<rect x="715" y="475" width="20" height="9" fill="#008000"/>
<rect x="715" y="484" width="20" height="14" fill="#0000ff"/>
<rect x="317" y="475" width="1" height="9" fill="#008000"/>
<rect x="317" y="484" width="1" height="14" fill="#0000ff"/>
<rect x="328" y="475" width="1" height="9" fill="#008000"/>
<rect x="328" y="484" width="1" height="14" fill="#0000ff"/>
<rect x="345" y="475" width="1" height="9" fill="#008000"/>
<rect x="345" y="484" width="1" height="14" fill="#0000ff"/>
<rect x="347" y="475" width="1" height="9" fill="#008000"/>
<rect x="347" y="484" width="1" height="14" fill="#0000ff"/>
<rect x="349" y="475" width="1" height="9" fill="#008000"/>
<rect x="349" y="484" width="1" height="14" fill="#0000ff"/>
<rect x="353" y="475" width="1" height="9" fill="#008000"/>
<rect x="353" y="484" width="1" height="14" fill="#0000ff"/>
<rect x="355" y="475" width="1" height="9" fill="#008000"/>
<rect x="355" y="484" width="1" height="14" fill="#0000ff"/>
<rect x="357" y="475" width="1" height="9" fill="#008000"/>
<rect x="357" y="484" width="1" height="14" fill="#0000ff"/>
<rect x="385" y="475" width="1" height="9" fill="#008000"/>
<rect x="385" y="484" width="1" height="14" fill="#0000ff"/>
<rect x="400" y="475" width="1" height="9" fill="#008000"/>
<rect x="400" y="484" width="1" height="14" fill="#0000ff"/>
<rect x="415" y="475" width="1" height="9" fill="#008000"/>
<rect x="415" y="484" width="1" height="14" fill="#0000ff"/>
<rect x="420" y="475" width="1" height="9" fill="#008000"/>
<rect x="420" y="484" width="1" height="14" fill="#0000ff"/>
<rect x="168" y="475" width="1" height="23" fill="#fff"/>
<rect x="170" y="475" width="1" height="23" fill="#fff"/>
<rect x="185" y="475" width="1" height="23" fill="#fff"/>
<rect x="195" y="475" width="1" height="23" fill="#fff"/>
<rect x="211" y="475" width="2" height="23" fill="#fff"/>
<rect x="496" y="475" width="1" height="23" fill="#fff"/>
<rect x="502" y="475" width="3" height="23" fill="#fff"/>
<rect x="517" y="475" width="3" height="23" fill="#fff"/>
<rect x="528" y="475" width="2" height="23" fill="#fff"/>
<rect x="533" y="475" width="1" height="23" fill="#fff"/>
<rect x="535" y="475" width="1.5" height="23" fill="#fff"/>
<rect x="554" y="475" width="2" height="23" fill="#fff"/>
<rect x="629" y="475" width="1" height="23" fill="#fff"/>
<rect x="645" y="475" width="1" height="23" fill="#fff"/>
<rect x="729" y="475" width="1" height="23" fill="#fff"/>
<rect x="732" y="475" width="1" height="23" fill="#fff"/>
<rect x="187" y="484" width="1" height="14" fill="#fff"/>
<rect x="242" y="484" width="1" height="14" fill="#fff"/>
<rect x="431" y="484" width="1" height="14" fill="#fff"/>
</g>
<rect x="135.5" y="474.5" width="630" height="24" fill="none" stroke="#000" stroke-width="1.1"/>
<text transform="translate(207.7,518.3) rotate(-30)" text-anchor="end" textLength="34.6" lengthAdjust="spacingAndGlyphs">2021</text>
<text transform="translate(313.7,518.3) rotate(-30)" text-anchor="end" textLength="34.6" lengthAdjust="spacingAndGlyphs">2022</text>
<text transform="translate(420.7,518.3) rotate(-30)" text-anchor="end" textLength="34.6" lengthAdjust="spacingAndGlyphs">2023</text>
<text transform="translate(526.7,518.3) rotate(-30)" text-anchor="end" textLength="34.6" lengthAdjust="spacingAndGlyphs">2024</text>
<text transform="translate(632.7,518.3) rotate(-30)" text-anchor="end" textLength="34.6" lengthAdjust="spacingAndGlyphs">2025</text>
<text transform="translate(739.7,518.3) rotate(-30)" text-anchor="end" textLength="34.6" lengthAdjust="spacingAndGlyphs">2026</text>
<rect x="0" y="577" width="900" height="23" fill="#808080"/>
<text x="9.22" y="595" textLength="73.73" lengthAdjust="spacingAndGlyphs" fill="#fff">Generated</text>
<text x="86.95" y="595" textLength="17.07" lengthAdjust="spacingAndGlyphs" fill="#fff">by</text>
<text x="108.36" y="595" textLength="62.3" lengthAdjust="spacingAndGlyphs" fill="#fff">SeedPSD</text>
<text x="175.36" y="595" textLength="17.71" lengthAdjust="spacingAndGlyphs" fill="#fff">on</text>
<text x="197.22" y="595" textLength="79.4" lengthAdjust="spacingAndGlyphs" fill="#fff">2025-12-15</text>
<text x="284" y="595" text-anchor="middle" fill="#fff">|</text>
<text x="290.22" y="595" textLength="85.37" lengthAdjust="spacingAndGlyphs" fill="#fff">Calculations</text>
<text x="379.96" y="595" textLength="58" lengthAdjust="spacingAndGlyphs" fill="#fff">updated</text>
<text x="442.4" y="595" textLength="16.6" lengthAdjust="spacingAndGlyphs" fill="#fff">on</text>
<text x="464.23" y="595" textLength="79.17" lengthAdjust="spacingAndGlyphs" fill="#fff">2025-12-14</text>
</svg>
</body></html>
